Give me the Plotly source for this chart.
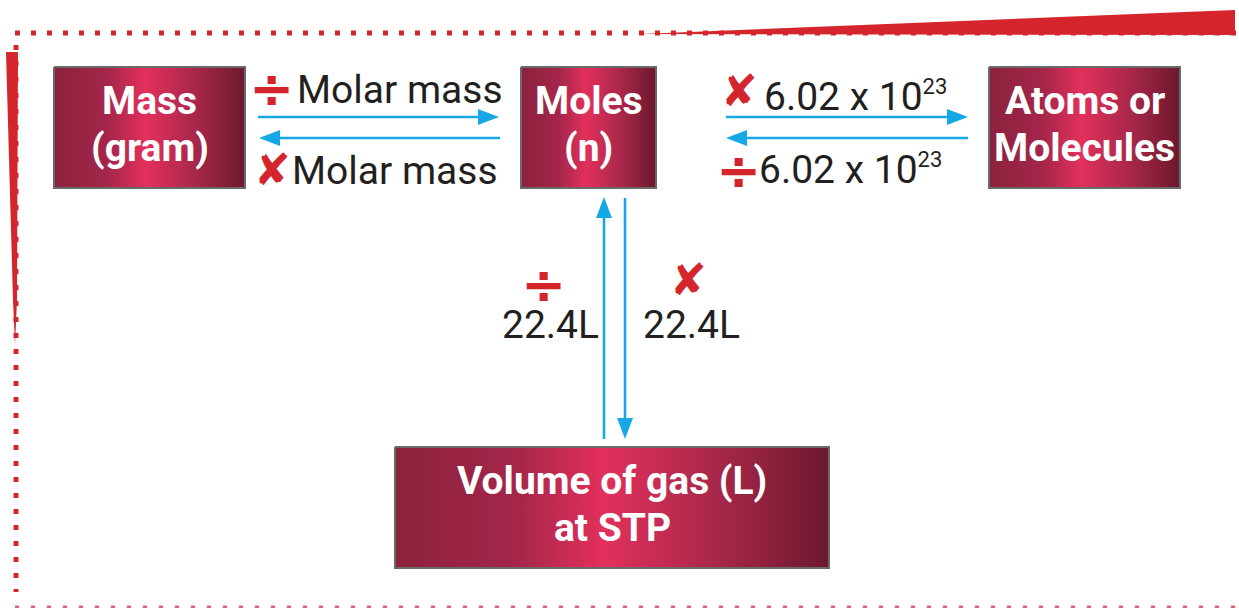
import plotly.graph_objects as go

# ---- content ----
box_labels = ["Mass<br>(gram)", "Moles<br>(n)", "Atoms or<br>Molecules", "Volume of gas (L)<br>at STP"]
conv_labels = ["Molar mass", "Molar mass",
               "6.02 x 10<sup><span style='font-size:22px'>23</span></sup>",
               "6.02 x 10<sup><span style='font-size:22px'>23</span></sup>",
               "22.4L", "22.4L"]
conv_ops = ["÷", "✘", "✘", "÷", "÷", "✘"]

# ---- layout geometry (pixels, y down) ----
boxes = [(54, 67, 245, 188), (521, 67, 656, 188), (989, 67, 1180, 188), (395, 447, 829, 568)]
label_pos = [(295, 90, "left"), (290, 171, "left"), (762, 97, "left"), (757, 170, "left"), (550, 325, "center"), (691, 325, "center")]
op_pos = [(271, 88, 54), (272, 169, 44), (739, 90, 44), (738, 170, 54), (543, 284, 54), (688, 279, 44)]
arrows = [(258, 117, 499, 117), (500, 138, 259, 138), (726, 117, 968, 117), (968, 138, 726, 138),
          (604, 439, 604, 197), (625, 198, 625, 439)]

RED = "#d4252d"
BLUE = "#16a8e6"
TXT = "#231f20"

fig = go.Figure()

# boxes with horizontal gradient
cscale = [[0, "#8b213d"], [0.28, "#a4264a"], [0.48, "#e2305b"], [0.72, "#ad284c"], [1, "#6c182e"]]
for (x0, y0, x1, y1) in boxes:
    fig.add_trace(go.Scatter(
        x=[x0, x1, x1, x0, x0], y=[y0, y0, y1, y1, y0], mode="lines", fill="toself",
        line=dict(color="#6a6a6a", width=2),
        fillgradient=dict(type="horizontal", colorscale=cscale, start=x0, stop=x1),
        hoverinfo="skip", showlegend=False))

annotations = []
for (x0, y0, x1, y1), lab in zip(boxes, box_labels):
    cy = (y0 + y1) / 2
    for line, off in zip(lab.split("<br>"), (-27, 20)):
        annotations.append(dict(x=(x0 + x1) / 2, y=cy + off, text="<b>" + line + "</b>", showarrow=False,
                                font=dict(family="Roboto", size=39, color="white"),
                                xanchor="center", yanchor="middle"))

for (x, y, anc), lab in zip(label_pos, conv_labels):
    annotations.append(dict(x=x, y=y, text=lab, showarrow=False, xanchor=anc, yanchor="middle",
                            font=dict(family="Roboto", size=39, color=TXT)))

for (x, y, s), op in zip(op_pos, conv_ops):
    annotations.append(dict(x=x, y=y, text="<b>" + op + "</b>", showarrow=False, xanchor="center", yanchor="middle",
                            font=dict(family="DejaVu Sans", size=s, color=RED)))

shapes = []
# arrows: shaft + triangular head
for (xs, ys, xe, ye) in arrows:
    dx, dy = xe - xs, ye - ys
    L = (dx * dx + dy * dy) ** 0.5
    ux, uy = dx / L, dy / L
    hl, hw = 21, 8
    bx, by = xe - ux * hl, ye - uy * hl
    shapes.append(dict(type="line", x0=xs, y0=ys, x1=bx, y1=by, line=dict(color=BLUE, width=2.6)))
    px, py = -uy, ux
    shapes.append(dict(type="path",
                       path=f"M {xe},{ye} L {bx + px * hw},{by + py * hw} L {bx - px * hw},{by - py * hw} Z",
                       fillcolor=BLUE, line=dict(width=0)))

# decorative frame
shapes.append(dict(type="path", path="M 640,34 L 1235,10 L 1235,35 Z", fillcolor=RED, line=dict(width=0)))
shapes.append(dict(type="path", path="M 6,52 L 18,52 L 17,300 L 15,345 L 13,300 Z", fillcolor=RED, line=dict(width=0)))
shapes.append(dict(type="line", x0=15, y0=33, x1=1236, y1=33, line=dict(color=RED, width=5, dash="5px,11px")))
shapes.append(dict(type="line", x0=16, y0=45, x1=16, y1=592, line=dict(color=RED, width=5, dash="5px,11px")))
shapes.append(dict(type="line", x0=15, y0=607, x1=1236, y1=607, line=dict(color="#e06068", width=3, dash="4px,12px")))

fig.update_layout(
    width=1239, height=608, margin=dict(l=0, r=0, t=0, b=0),
    paper_bgcolor="white", plot_bgcolor="white",
    xaxis=dict(range=[0, 1239], visible=False, fixedrange=True),
    yaxis=dict(range=[608, 0], visible=False, fixedrange=True),
    annotations=annotations, shapes=shapes, showlegend=False,
)

fig.write_html("out.html", config={"displayModeBar": False},
               post_script="document.body.style.margin='0';document.body.style.overflow='hidden';")
